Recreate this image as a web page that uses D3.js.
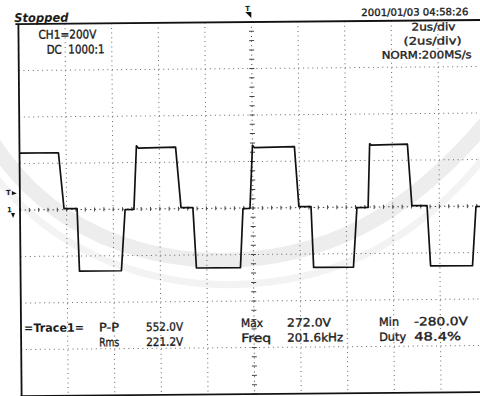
<!DOCTYPE html>
<html>
<head>
<meta charset="utf-8">
<script src="https://cdn.jsdelivr.net/npm/d3@7"></script>
<style>
  body { margin: 0; background: #fff; }
  svg { display: block; }
  text { font-family: "DejaVu Sans", "Liberation Sans", sans-serif; fill: #1b1b1b; white-space: pre; }
</style>
</head>
<body>
<svg id="chart" width="480" height="396"></svg>
<script>
// Trace breakpoints (time in us from trigger, volts)
const traceT = [-10, -8.33, -8.11, -7.55, -7.47, -5.67, -5.49, -5.11, -4.98, -4.9,
  -3.30, -3.09, -2.58, -2.45, -0.56, -0.43, -0.13, 0, 0.08, 1.80,
  1.97, 2.49, 2.58, 4.29, 4.46, 4.94, 5.03, 5.1, 6.65, 6.82,
  7.47, 7.60, 9.40, 9.57, 10];
const traceV = [245, 245, 4, 4, -265, -265, -2, -2, 272, 262,
  265, 4, 4, -256, -256, -2, -2, 270, 260, 262,
  4, 4, -258, -258, -2, -2, 272, 266, 269, 4,
  4, -256, -256, -2, -2];

// Screen text
const status = 'Stopped';
const channelInfo = ['CH1=200V', 'DC  1000:1'];
const timestamp = '2001/01/03 04:58:26';
const timebaseInfo = ['2us/div', '(2us/div)', 'NORM:200MS/s'];
const traceName = '=Trace1=';
const measNames = [['P-P', 'Rms'], ['Max', 'Freq'], ['Min', 'Duty']];
const measValues = [['552.0V', '221.2V'], ['272.0V', '201.6kHz'], ['-280.0V', '48.4%']];

// Screen geometry (10 x 8 divisions, 2us/div, 200V/div)
const L = 20, T = 22, W = 466, H = 372;
const x = d3.scaleLinear([-10, 10], [L, L + W]);
const y = d3.scaleLinear([-800, 800], [T + H, T]);

const svg = d3.select('#chart');

// Faint watermark bands behind the screen
svg.append('path')
  .attr('d', 'M-10,138 C60,250 180,268 260,258 C360,246 430,190 490,118')
  .attr('fill', 'none').attr('stroke', '#ededed').attr('stroke-width', 15);
svg.append('path')
  .attr('d', 'M-10,170 C70,275 190,292 270,282 C370,270 440,215 490,150')
  .attr('fill', 'none').attr('stroke', '#f3f3f3').attr('stroke-width', 7);

// The photo is slightly tilted
const g = svg.append('g').attr('transform', 'rotate(-0.5, 253, 208)');

// Grid
const grid = g.append('g').attr('stroke', '#666').attr('stroke-width', 1)
  .attr('stroke-dasharray', '1 3.66');
d3.range(-8, 10.1, 2).filter((t) => t !== 0).forEach((t) => {
  grid.append('line')
    .attr('x1', x(t)).attr('x2', x(t)).attr('y1', T).attr('y2', T + H);
});
d3.range(-600, 601, 200).filter((v) => v !== 0).forEach((v) => {
  grid.append('line')
    .attr('x1', L).attr('x2', L + W).attr('y1', y(v)).attr('y2', y(v));
});

// Centre axes with minor ticks
const axes = g.append('g').attr('stroke', '#444').attr('stroke-width', 1);
axes.append('line').attr('x1', x(0)).attr('x2', x(0)).attr('y1', T).attr('y2', T + H)
  .attr('stroke-dasharray', '1 3.66');
axes.append('line').attr('x1', L).attr('x2', L + W).attr('y1', y(0)).attr('y2', y(0))
  .attr('stroke-dasharray', '1.4 3.26');
d3.range(-10, 10.01, 0.4).forEach((t) => {
  axes.append('line').attr('x1', x(t)).attr('x2', x(t))
    .attr('y1', y(0) - 2).attr('y2', y(0) + 2);
});
d3.range(-800, 801, 40).forEach((v) => {
  axes.append('line').attr('x1', x(0) - 2.5).attr('x2', x(0) + 2.5)
    .attr('y1', y(v)).attr('y2', y(v));
});

// Frame
const frame = g.append('g').attr('stroke', '#111').attr('stroke-width', 1.8);
frame.append('line').attr('x1', L - 3).attr('x2', 482).attr('y1', T).attr('y2', T);
frame.append('line').attr('x1', L).attr('x2', L).attr('y1', T).attr('y2', T + H);
frame.append('line').attr('x1', L - 1).attr('x2', 482).attr('y1', T + H).attr('y2', T + H);

// Trace
const line = d3.line().x((d) => x(d[0])).y((d) => y(d[1]));
g.append('path')
  .datum(traceT.map((t, i) => [t, traceV[i]]))
  .attr('d', line)
  .attr('fill', 'none')
  .attr('stroke', '#111')
  .attr('stroke-width', 1.7)
  .attr('stroke-linejoin', 'round');

// Markers: trigger position (top), trigger level and ground (left)
g.append('text').attr('x', 247).attr('y', 11).attr('font-size', 7).attr('font-weight', 'bold').text('T');
g.append('path').attr('d', 'M247,12 L253,12 L253,18 Z').attr('fill', '#111');
g.append('text').attr('x', 6).attr('y', y(78) + 3).attr('font-size', 7).attr('font-weight', 'bold').text('T');
g.append('path').attr('d', `M12,${y(78) - 1} L17,${y(78) + 1.5} L12,${y(78) + 3} Z`).attr('fill', '#111');
g.append('text').attr('x', 7).attr('y', y(0) + 2).attr('font-size', 7).attr('font-weight', 'bold').text('1');
g.append('path').attr('d', `M11,${y(0) + 3} L15,${y(0) + 3} L13,${y(0) + 8} Z`).attr('fill', '#111');

// Text helper: stretch to the width seen on the screen
function label(str, px, py, w, size, extra) {
  const t = g.append('text').attr('x', px).attr('y', py)
    .attr('font-size', size).attr('textLength', w).attr('lengthAdjust', 'spacingAndGlyphs')
    .attr('stroke', '#1b1b1b').attr('stroke-width', 0.35)
    .text(str);
  if (extra) extra(t);
  return t;
}

label(status, 16, 20, 54, 12, (t) => t.attr('font-style', 'italic').attr('font-weight', 'bold').attr('stroke-width', 0));
label(channelInfo[0], 40, 37, 58, 12);
label(channelInfo[1], 48, 52, 58, 12);
label(timestamp, 363, 17, 107, 10);
label(timebaseInfo[0], 413, 32, 44, 10.5);
label(timebaseInfo[1], 405, 46, 58, 10.5);
label(timebaseInfo[2], 383, 60, 90, 10.5);

// Measurements
label(traceName, 23, 330, 60, 11.5, (t) => t.attr('font-weight', 'bold').attr('stroke-width', 0));
const nameX = [98, 240, 378];
const nameW = [[20, 20], [22, 30], [20, 27]];
const valX = [145, 286, 413];
const valW = [[37, 37], [44, 56], [54, 47]];
const rowY = [[330, 345], [327, 342], [327, 342]];
measNames.forEach((col, c) => {
  col.forEach((n, r) => {
    label(n, nameX[c], rowY[c][r], nameW[c][r], 11.5);
    label(measValues[c][r], valX[c], rowY[c][r], valW[c][r], 11.5);
  });
});
</script>
</body>
</html>
